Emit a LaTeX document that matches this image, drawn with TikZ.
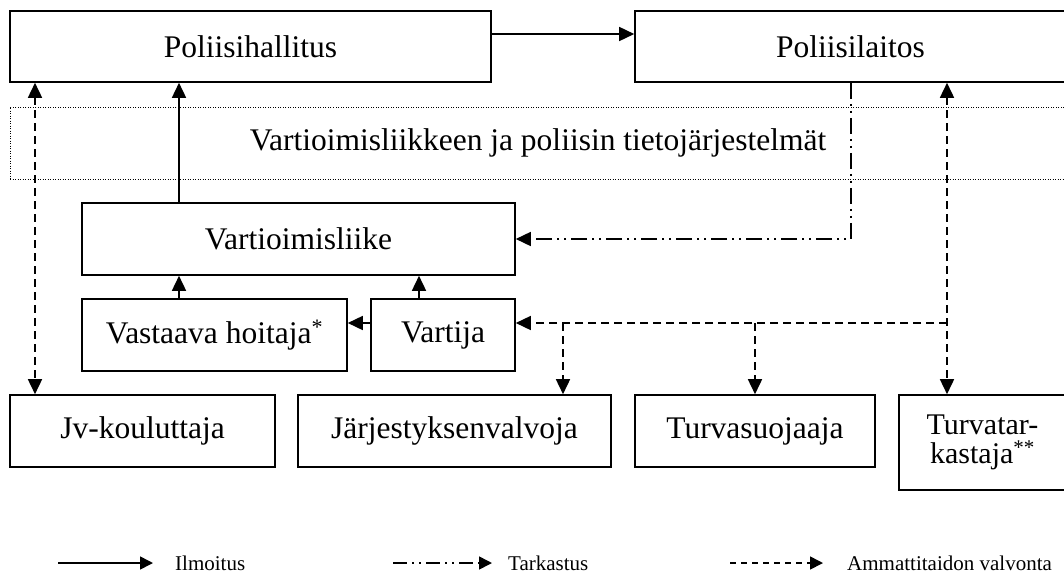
\documentclass[tikz,border=0pt]{standalone}
\usepackage{fontspec}
\setmainfont{Liberation Serif}
\usetikzlibrary{arrows.meta}
\begin{document}
\begin{tikzpicture}[x=1pt,y=-1pt,
  box/.style={draw, line width=1.6pt, inner sep=0pt, font=\fontsize{31.5}{36}\selectfont},
  conn/.style={line width=1.6pt},
  tip/.style={-{Triangle[length=15pt,width=14pt]}},
  tips/.style={{Triangle[length=15pt,width=14pt]}-{Triangle[length=15pt,width=14pt]}},
  ltip/.style={-{Triangle[length=13pt,width=13pt]}},
  dsh/.style={dash pattern=on 8pt off 5pt},
  dshdot/.style={dash pattern=on 16pt off 5pt on 2pt off 5pt on 2pt off 5pt},
  ldsh/.style={dash pattern=on 6pt off 5pt},
  ldshdot/.style={dash pattern=on 14pt off 5pt on 2pt off 5pt on 2pt off 5pt},
  legtext/.style={anchor=west, inner sep=0pt, font=\fontsize{21}{24}\selectfont},
  dotbox/.style={draw, line width=1pt, dash pattern=on 1pt off 1.5pt, inner sep=0pt, font=\fontsize{31.5}{36}\selectfont}]
\useasboundingbox (0,0) rectangle (1064,573);

% boxes
\node[dotbox, minimum width=1056pt, minimum height=72pt] (db) at (538,143) {Vartioimisliikkeen ja poliisin tietojärjestelmät};
\node[box, minimum width=481pt, minimum height=71pt] (ph) at (250.5,46.5) {Poliisihallitus};
\node[box, minimum width=431pt, minimum height=71pt] (pl) at (850.5,46.5) {Poliisilaitos};
\node[box, minimum width=433pt, minimum height=72pt] (vl) at (298.5,239) {Vartioimisliike};
\node[box, minimum width=265pt, minimum height=72pt] (vh) at (214.5,335) {Vastaava hoitaja\textsuperscript{*}};
\node[box, minimum width=144pt, minimum height=72pt] (va) at (443,335) {Vartija};
\node[box, minimum width=265pt, minimum height=72pt] (jv) at (142.5,431) {Jv-kouluttaja};
\node[box, minimum width=313pt, minimum height=72pt] (js) at (454.5,431) {Järjestyksenvalvoja};
\node[box, minimum width=240pt, minimum height=72pt] (ts) at (755,431) {Turvasuojaaja};
\node[box, minimum width=167pt, minimum height=95pt, align=center, font=\fontsize{30}{29}\selectfont] (tt) at (982.5,442.5) {Turvatar-\\kastaja\textsuperscript{**}};

% helper coordinates
\coordinate (xa) at (35,0);
\coordinate (xb) at (179,0);
\coordinate (xc) at (419,0);
\coordinate (xd) at (851,0);
\coordinate (xe) at (947,0);
\coordinate (xf) at (563,0);
\coordinate (xg) at (755,0);
\coordinate (ya) at (0,323);
\coordinate (yb) at (0,239);
\coordinate (yc) at (0,34);
\coordinate (j) at (xe |- ya);
\coordinate (jf) at (xf |- ya);
\coordinate (jg) at (xg |- ya);

% connectors
\draw[conn,tip] (ph.east |- yc) -- (pl.west |- yc);
\draw[conn,dsh,tips] (ph.south -| xa) -- (jv.north -| xa);
\draw[conn,tip] (vl.north -| xb) -- (ph.south -| xb);
\draw[conn,tip] (vh.north -| xb) -- (vl.south -| xb);
\draw[conn,tip] (va.north -| xc) -- (vl.south -| xc);
\draw[conn,tip] (va.west |- ya) -- (vh.east |- ya);
\draw[conn,dshdot,tip] (pl.south -| xd) |- (vl.east |- yb);
\draw[conn,dsh,tips] (pl.south -| xe) -- (tt.north -| xe);
\draw[conn,dsh,tip] (j) -- (va.east |- ya);
\draw[conn,dsh,tip] (jf) -- (js.north -| xf);
\draw[conn,dsh,tip] (jg) -- (ts.north -| xg);

% legend
\coordinate (l1a) at (58,563);
\coordinate (l1b) at (153,563);
\coordinate (l2a) at (393,563);
\coordinate (l2b) at (492,563);
\coordinate (l3a) at (730,563);
\coordinate (l3b) at (823,563);
\draw[conn,ltip] (l1a) -- (l1b);
\draw[conn,ldshdot,ltip] (l2a) -- (l2b);
\draw[conn,ldsh,ltip] (l3a) -- (l3b);
\node[legtext] (lt1) at (175,563) {Ilmoitus};
\node[legtext] (lt2) at (508,563) {Tarkastus};
\node[legtext] (lt3) at (847,563) {Ammattitaidon valvonta};
\end{tikzpicture}
\end{document}
